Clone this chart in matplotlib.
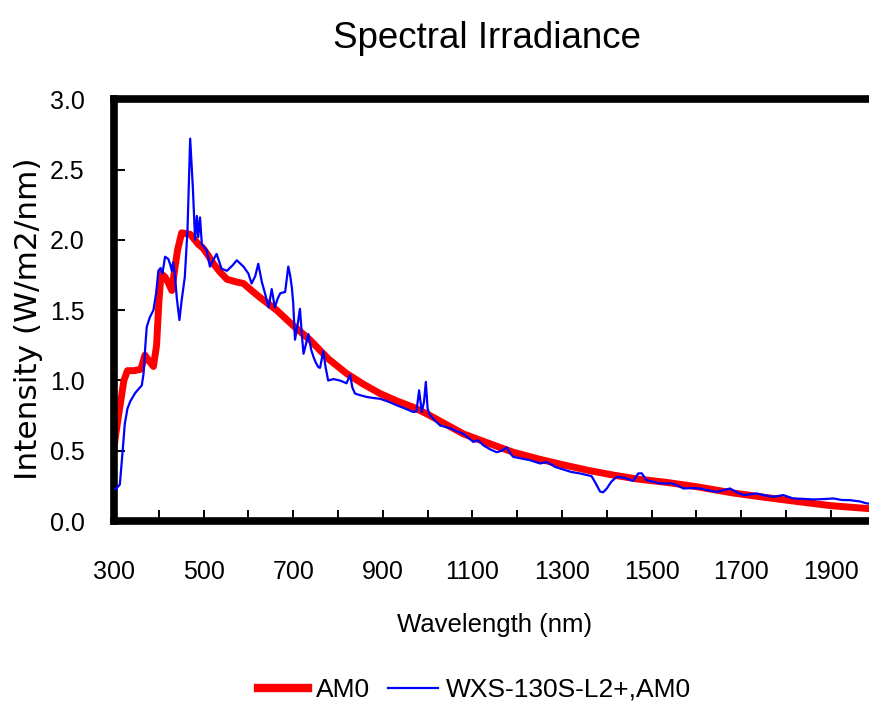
import numpy as np
import matplotlib
matplotlib.use('Agg')  # no UI backend
import matplotlib.pyplot as plt

plt.rcParams['font.family'] = ['Liberation Sans', 'DejaVu Sans']

# AM0 reference spectrum (nm, W/m2/nm)
am0_wl = [300, 310, 322, 330, 345, 360, 369, 378, 388, 395, 400, 405, 414, 422,
          429, 435, 442, 451, 470, 488, 499, 510, 522, 537, 552, 574, 589, 607,
          626, 663, 700, 737, 778, 819, 856, 894, 931, 968, 1000, 1040, 1080,
          1135, 1191, 1250, 1303, 1360, 1415, 1467, 1534, 1600, 1682, 1750,
          1831, 1900, 1980, 2000]
am0_val = [0.53, 0.75, 1.00, 1.07, 1.07, 1.08, 1.18, 1.14, 1.10, 1.25, 1.55,
           1.76, 1.735, 1.69, 1.64, 1.78, 1.93, 2.05, 2.04, 1.97, 1.94, 1.89,
           1.83, 1.77, 1.72, 1.70, 1.69, 1.64, 1.59, 1.50, 1.39, 1.29, 1.155,
           1.05, 0.975, 0.907, 0.855, 0.81, 0.76, 0.69, 0.62, 0.555, 0.49,
           0.44, 0.40, 0.36, 0.327, 0.30, 0.275, 0.245, 0.20, 0.17, 0.137,
           0.11, 0.09, 0.085]

# simulator output, WXS-130S-L2+ set to AM0
wxs_wl = [300, 305, 313, 318, 324, 330, 336, 347, 355, 362, 366, 370, 373, 380,
          388, 394, 399, 404, 408, 414, 421, 426, 429, 432, 436, 440, 446, 451,
          458, 464, 470, 476, 481, 485, 488, 492, 496, 507, 514, 522, 529, 540,
          552, 565, 574, 589, 600, 607, 615, 622, 630, 637, 645, 652, 659, 665,
          671, 682, 689, 693, 697, 700, 704, 710, 715, 720, 723, 730, 734, 740,
          745, 750, 756, 760, 767, 772, 778, 790, 804, 812, 819, 827, 832, 838,
          850, 864, 880, 894, 912, 931, 950, 968, 975, 981, 984, 987, 992, 996,
          1000, 1004, 1015, 1028, 1040, 1050, 1065, 1080, 1092, 1102, 1113,
          1124, 1140, 1154, 1165, 1177, 1185, 1191, 1210, 1229, 1251, 1266,
          1285, 1303, 1320, 1340, 1366, 1375, 1385, 1392, 1400, 1410, 1422,
          1435, 1444, 1459, 1470, 1478, 1489, 1505, 1519, 1545, 1560, 1571,
          1590, 1608, 1625, 1645, 1660, 1675, 1690, 1705, 1720, 1734, 1750,
          1772, 1794, 1816, 1840, 1861, 1885, 1906, 1925, 1943, 1965, 1980,
          2000]
wxs_val = [0.23, 0.23, 0.26, 0.45, 0.69, 0.80, 0.85, 0.91, 0.94, 0.965, 1.05,
           1.25, 1.38, 1.45, 1.50, 1.62, 1.78, 1.80, 1.76, 1.88, 1.865, 1.82,
           1.78, 1.84, 1.75, 1.59, 1.43, 1.57, 1.735, 2.07, 2.72, 2.37, 2.00,
           2.17, 2.02, 2.16, 1.97, 1.925, 1.81, 1.86, 1.90, 1.795, 1.78, 1.82,
           1.855, 1.81, 1.76, 1.69, 1.74, 1.83, 1.70, 1.62, 1.52, 1.65, 1.52,
           1.58, 1.62, 1.63, 1.81, 1.75, 1.66, 1.55, 1.29, 1.40, 1.51, 1.30,
           1.19, 1.28, 1.33, 1.22, 1.17, 1.13, 1.095, 1.09, 1.21, 1.10, 1.00,
           1.01, 1.00, 0.99, 0.98, 1.04, 0.95, 0.907, 0.895, 0.883, 0.875,
           0.87, 0.85, 0.824, 0.80, 0.776, 0.78, 0.93, 0.85, 0.776, 0.85,
           0.99, 0.80, 0.76, 0.72, 0.68, 0.67, 0.66, 0.64, 0.62, 0.59, 0.563,
           0.575, 0.54, 0.51, 0.49, 0.50, 0.523, 0.48, 0.457, 0.445, 0.433,
           0.41, 0.42, 0.385, 0.367, 0.35, 0.339, 0.32, 0.27, 0.21, 0.205,
           0.232, 0.28, 0.315, 0.31, 0.303, 0.286, 0.339, 0.34, 0.29, 0.28,
           0.268, 0.268, 0.25, 0.232, 0.235, 0.232, 0.22, 0.208, 0.22, 0.232,
           0.205, 0.185, 0.19, 0.197, 0.185, 0.173, 0.185, 0.161, 0.158, 0.154,
           0.157, 0.161, 0.15, 0.149, 0.14, 0.126, 0.12]

x_ticks = np.arange(300, 2000, 200)
y_ticks = np.arange(0, 3.01, 0.5)

fig = plt.figure(figsize=(8.69, 7.09), dpi=100)
# right edge of the frame sits just outside the canvas
ax = fig.add_axes([0.1312, 0.265, 0.8764, 0.595])

ax.plot(am0_wl, am0_val, color='#ff0000', lw=5, label='AM0', zorder=2)
ax.plot(wxs_wl, wxs_val, color='#0000ff', lw=1.6, label='WXS-130S-L2+,AM0', zorder=3)

ax.set_xlim(300, 2000)
ax.set_ylim(0, 3.0)
ax.set_xticks(x_ticks)
ax.set_xticks(np.arange(400, 2000, 100), minor=True)
ax.set_yticks(y_ticks)
ax.set_yticklabels([f'{v:.1f}' for v in y_ticks])

for sp in ax.spines.values():
    sp.set_linewidth(5.5)
ax.tick_params(axis='both', which='both', direction='in', width=1.4, length=8,
               labelsize=18)
ax.tick_params(axis='x', which='minor', labelbottom=False)
ax.tick_params(axis='x', pad=28)
ax.tick_params(axis='y', pad=21)

ax.set_title('Spectral Irradiance', fontsize=26.5, pad=37, x=0.49)
ax.set_xlabel('Wavelength (nm)', fontsize=18.5, labelpad=21)
ax.set_ylabel('Intensity (W/m2/nm)', fontsize=22.5, family=['DejaVu Sans'])
ax.yaxis.set_label_coords(-0.093, 0.48)

leg = fig.legend(loc='center', bbox_to_anchor=(0.546, 0.027), ncol=2,
                 frameon=False, fontsize=19, handlelength=1.9,
                 handletextpad=0.3, columnspacing=0.7)
leg.get_lines()[0].set_linewidth(6)
leg.get_lines()[1].set_linewidth(1.6)

fig.savefig('out.png', dpi=100)
